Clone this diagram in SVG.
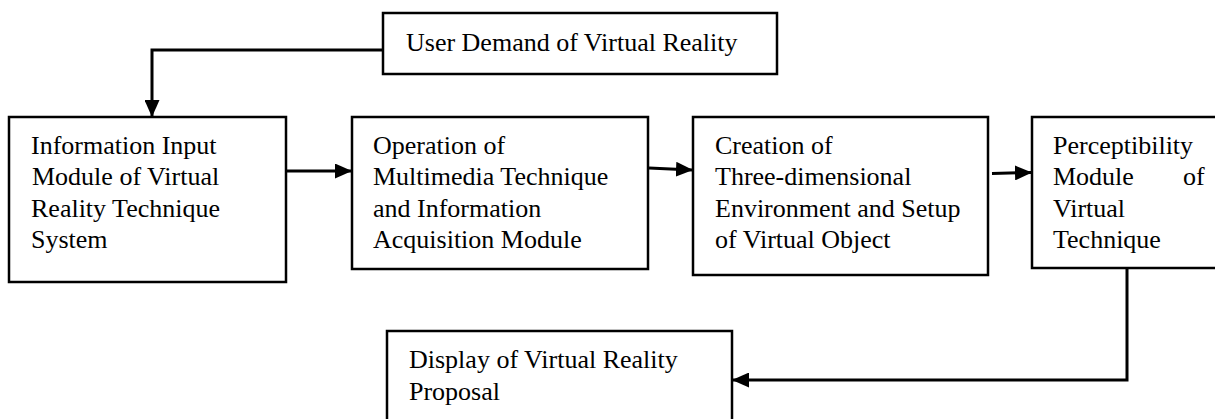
<svg xmlns="http://www.w3.org/2000/svg" width="1215" height="419" viewBox="0 0 1215 419">
<style>
.box{fill:#fff;stroke:#000;stroke-width:2.5}
.t{font-family:"Liberation Serif","Times New Roman",serif;font-size:26px;fill:#000}
.c{fill:none;stroke:#000;stroke-width:3}
</style>
<defs>
<marker id="ah" markerUnits="userSpaceOnUse" markerWidth="17" markerHeight="15" refX="16" refY="7.5" orient="auto">
<path d="M0,0 L17,7.5 L0,15 z" fill="#000"/>
</marker>
</defs>
<rect width="1215" height="419" fill="#fff"/>
<g id="connectors">
<polyline class="c" points="383,50 152,50 152,116" marker-end="url(#ah)"/>
<line class="c" x1="287" y1="171" x2="351" y2="171" marker-end="url(#ah)"/>
<line class="c" x1="649" y1="168" x2="692" y2="170" marker-end="url(#ah)"/>
<line class="c" x1="992" y1="173.5" x2="1031" y2="172.5" marker-end="url(#ah)"/>
<polyline class="c" points="1127,268 1127,380 733,380" marker-end="url(#ah)"/>
</g>
<g id="user">
<rect class="box" x="383" y="13" width="394" height="61"/>
<text class="t" x="406" y="51">User Demand of Virtual Reality</text>
</g>
<g id="input">
<rect class="box" x="9" y="117" width="277" height="165"/>
<text class="t"><tspan x="31" y="154">Information Input</tspan><tspan x="32" y="185">Module of Virtual</tspan><tspan x="31" y="217">Reality Technique</tspan><tspan x="31" y="248">System</tspan></text>
</g>
<g id="operation">
<rect class="box" x="352" y="117" width="296" height="152"/>
<text class="t"><tspan x="373" y="154">Operation of</tspan><tspan x="373" y="185">Multimedia Technique</tspan><tspan x="373" y="217">and Information</tspan><tspan x="373" y="248">Acquisition Module</tspan></text>
</g>
<g id="creation">
<rect class="box" x="693" y="117" width="295" height="158"/>
<text class="t"><tspan x="715" y="154">Creation of</tspan><tspan x="715" y="185">Three-dimensional</tspan><tspan x="715" y="217">Environment and Setup</tspan><tspan x="715" y="248">of Virtual Object</tspan></text>
</g>
<g id="perceptibility">
<rect class="box" x="1032" y="117" width="200" height="151"/>
<text class="t"><tspan x="1053" y="154">Perceptibility</tspan><tspan x="1053" y="185">Module</tspan><tspan x="1183" y="185">of</tspan><tspan x="1053" y="217">Virtual</tspan><tspan x="1053" y="248">Technique</tspan></text>
</g>
<g id="display">
<rect class="box" x="387" y="331" width="345" height="110"/>
<text class="t"><tspan x="409" y="368">Display of Virtual Reality</tspan><tspan x="409" y="400">Proposal</tspan></text>
</g>
</svg>
